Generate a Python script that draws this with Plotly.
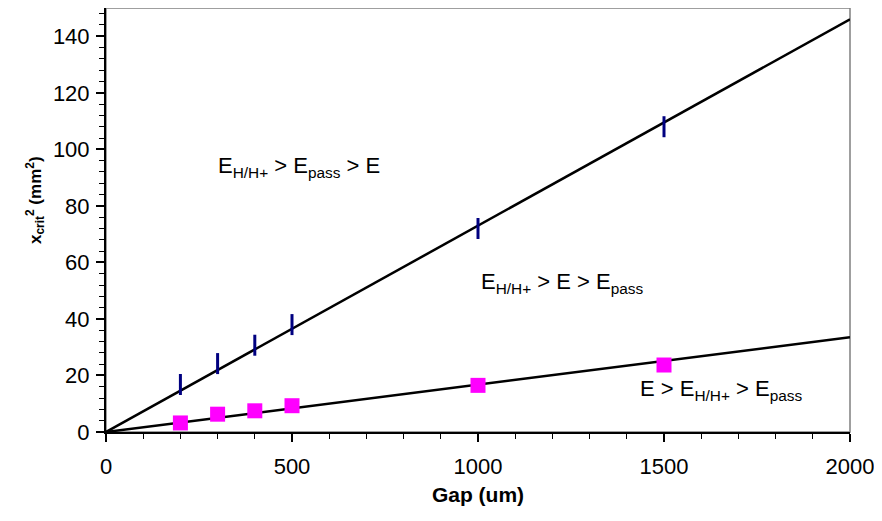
import plotly.graph_objects as go

# Data
gap_um = [200, 300, 400, 500, 1000, 1500]
series_upper = [16.8, 24.2, 30.7, 38.0, 72.0, 108.0]   # navy vertical-dash markers
series_lower = [3.2, 6.3, 7.5, 9.3, 16.5, 23.7]        # magenta squares
fit_x = [0, 2000]
fit_upper = [0, 146]
fit_lower = [0, 33.5]

FONT = "Liberation Sans, Arial, sans-serif"

fig = go.Figure()
fig.add_trace(go.Scatter(x=fit_x, y=fit_upper, mode="lines",
                         line=dict(color="black", width=2.5), showlegend=False))
fig.add_trace(go.Scatter(x=fit_x, y=fit_lower, mode="lines",
                         line=dict(color="black", width=2.5), showlegend=False))
fig.add_trace(go.Scatter(x=gap_um, y=series_upper, mode="markers",
                         marker=dict(symbol="line-ns", size=15,
                                     line=dict(color="#000080", width=3)),
                         showlegend=False))
fig.add_trace(go.Scatter(x=gap_um, y=series_lower, mode="markers",
                         marker=dict(symbol="square", size=15, color="#FF00FF",
                                     line=dict(width=0)),
                         showlegend=False))

# grey frame (top/right)
fig.add_shape(type="rect", xref="paper", yref="paper", x0=0, y0=0, x1=1, y1=1,
              line=dict(color="#808080", width=1.5), layer="below")

ann_font = dict(family=FONT, size=22, color="black")
fig.add_annotation(x=297, y=93.7, xref="x", yref="y", xanchor="left", yanchor="middle",
                   text="E<sub>H/H+</sub> &gt; E<sub>pass</sub> &gt; E",
                   showarrow=False, font=ann_font)
fig.add_annotation(x=1002, y=52.6, xref="x", yref="y", xanchor="left", yanchor="middle",
                   text="E<sub>H/H+</sub> &gt; E &gt; E<sub>pass</sub>",
                   showarrow=False, font=ann_font)
fig.add_annotation(x=1430, y=15, xref="x", yref="y", xanchor="left", yanchor="middle",
                   text="E &gt; E<sub>H/H+</sub> &gt; E<sub>pass</sub>",
                   showarrow=False, font=ann_font)

# y-axis title as annotation for exact placement
fig.add_annotation(x=-0.095, y=0.548, xref="paper", yref="paper",
                   xanchor="center", yanchor="middle", textangle=-90,
                   text="<b>x<sub>crit</sub><sup>2</sup> (mm<sup>2</sup>)</b>",
                   showarrow=False, font=dict(family=FONT, size=17, color="black"))

fig.update_layout(
    width=866, height=498,
    margin=dict(l=98, r=20, t=0, b=73),
    paper_bgcolor="white", plot_bgcolor="white",
    font=dict(family=FONT, color="black"),
    xaxis=dict(range=[0, 2000], dtick=500, showgrid=False, zeroline=False,
               showline=True, linecolor="black", linewidth=2,
               ticks="outside", ticklen=8, tickwidth=1.5, tickcolor="black",
               minor=dict(dtick=100, ticks="outside", ticklen=5, tickwidth=1, tickcolor="black"),
               tickfont=dict(family=FONT, size=22), ticklabelstandoff=6,
               ticklabeloverflow="allow",
               title=dict(text="<b>Gap (um)</b>", font=dict(family=FONT, size=21), standoff=12)),
    yaxis=dict(range=[0, 150], dtick=20, showgrid=False, zeroline=False,
               showline=True, linecolor="black", linewidth=2,
               ticks="outside", ticklen=8, tickwidth=1.5, tickcolor="black",
               minor=dict(dtick=4, ticks="outside", ticklen=5, tickwidth=1, tickcolor="black"),
               tickfont=dict(family=FONT, size=22), ticklabelstandoff=2),
)

fig.write_html("out.html")
